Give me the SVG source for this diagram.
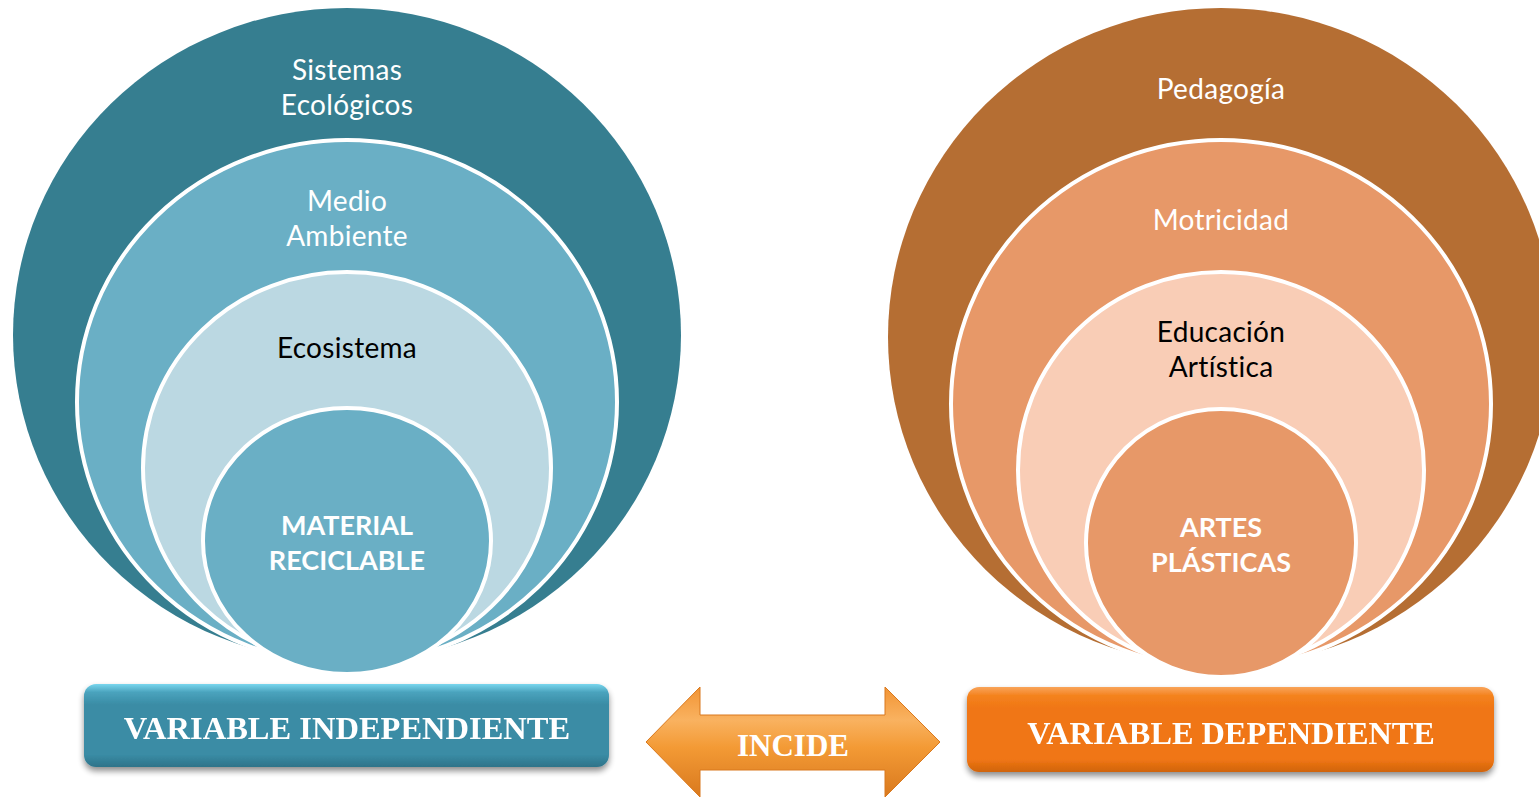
<svg xmlns="http://www.w3.org/2000/svg" width="1539" height="798" viewBox="0 0 1539 798">
<style>
.ring{stroke:#fff;stroke-width:4}
.lbl{font-family:Lato,"Open Sans","Liberation Sans",sans-serif;font-size:28px;letter-spacing:0.3px;text-anchor:middle}
.w{fill:#fff}
.k{fill:#000}
.b{font-weight:bold;font-size:27px;letter-spacing:0}
.box{font-family:"Liberation Serif","Times New Roman",serif;font-weight:bold;fill:#fff;text-anchor:middle}
</style>
<defs>
<linearGradient id="gBlue" x1="0" y1="0" x2="0" y2="1">
<stop offset="0" stop-color="#79d6ee"/>
<stop offset="0.1" stop-color="#4aa3bd"/>
<stop offset="0.25" stop-color="#3a8ca5"/>
<stop offset="0.85" stop-color="#3a8ca5"/>
<stop offset="1" stop-color="#2e7389"/>
</linearGradient>
<linearGradient id="gOrange" x1="0" y1="0" x2="0" y2="1">
<stop offset="0" stop-color="#f9a45a"/>
<stop offset="0.1" stop-color="#f4831f"/>
<stop offset="0.25" stop-color="#f07613"/>
<stop offset="0.85" stop-color="#f07613"/>
<stop offset="1" stop-color="#d0640e"/>
</linearGradient>
<linearGradient id="gArrow" x1="0" y1="0" x2="0" y2="1">
<stop offset="0" stop-color="#f29434"/>
<stop offset="0.3" stop-color="#f9b260"/>
<stop offset="0.55" stop-color="#f39a35"/>
<stop offset="1" stop-color="#d9791e"/>
</linearGradient>
<filter id="sh" x="-10%" y="-20%" width="120%" height="150%">
<feGaussianBlur in="SourceAlpha" stdDeviation="3"/>
<feOffset dx="0" dy="4" result="o"/>
<feComponentTransfer><feFuncA type="linear" slope="0.45"/></feComponentTransfer>
<feMerge><feMergeNode/><feMergeNode in="SourceGraphic"/></feMerge>
</filter>
</defs>

<g id="left-rings">
<g id="sistemas-ecologicos">
<ellipse cx="347" cy="335" rx="334" ry="327" fill="#367e90"/>
<text class="lbl w" x="347" y="80">Sistemas</text>
<text class="lbl w" x="347" y="115">Ecológicos</text>
</g>
<g id="medio-ambiente">
<ellipse class="ring" cx="347" cy="402" rx="270" ry="262" fill="#6aafc5"/>
<text class="lbl w" x="347" y="211">Medio</text>
<text class="lbl w" x="347" y="246">Ambiente</text>
</g>
<g id="ecosistema">
<ellipse class="ring" cx="347" cy="468" rx="204" ry="196" fill="#bbd8e2"/>
<text class="lbl k" x="347" y="358">Ecosistema</text>
</g>
<g id="material-reciclable">
<ellipse class="ring" cx="347" cy="541" rx="144" ry="133" fill="#6aafc5"/>
<text class="lbl w b" x="347" y="535">MATERIAL</text>
<text class="lbl w b" x="347" y="570">RECICLABLE</text>
</g>
</g>

<g id="right-rings">
<g id="pedagogia">
<ellipse cx="1221" cy="337" rx="333" ry="329" fill="#b56e33"/>
<text class="lbl w" x="1221" y="99">Pedagogía</text>
</g>
<g id="motricidad">
<ellipse class="ring" cx="1221" cy="404" rx="270" ry="264" fill="#e79868"/>
<text class="lbl w" x="1221" y="230">Motricidad</text>
</g>
<g id="educacion-artistica">
<ellipse class="ring" cx="1221" cy="470" rx="203" ry="198" fill="#f9cdb6"/>
<text class="lbl k" x="1221" y="342">Educación</text>
<text class="lbl k" x="1221" y="377">Artística</text>
</g>
<g id="artes-plasticas">
<ellipse class="ring" cx="1221" cy="543" rx="135" ry="134" fill="#e79868"/>
<text class="lbl w b" x="1221" y="537">ARTES</text>
<text class="lbl w b" x="1221" y="572">PLÁSTICAS</text>
</g>
</g>

<g id="variable-independiente" filter="url(#sh)">
<rect x="84" y="684" width="525" height="83" rx="12" fill="url(#gBlue)"/>
<text class="box" x="347" y="739" font-size="32.5">VARIABLE INDEPENDIENTE</text>
</g>

<g id="variable-dependiente" filter="url(#sh)">
<rect x="967" y="687" width="527" height="85" rx="12" fill="url(#gOrange)"/>
<text class="box" x="1231" y="744" font-size="32.3">VARIABLE DEPENDIENTE</text>
</g>

<g id="connectors">
<g id="incide">
<path d="M646,742 L700,687 L700,715 L885,715 L885,687 L940,742 L885,797 L885,770 L700,770 L700,797 Z" fill="url(#gArrow)" stroke="#d9791e" stroke-width="1"/>
<text class="box" x="793" y="756" font-size="31">INCIDE</text>
</g>
</g>
</svg>
